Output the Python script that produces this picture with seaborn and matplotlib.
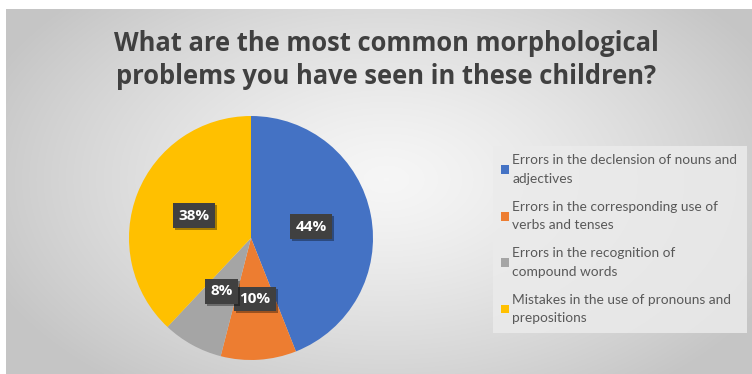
import numpy as np
import matplotlib
matplotlib.use("Agg")
import matplotlib.pyplot as plt
import matplotlib.patheffects as pe
from matplotlib.patches import Rectangle
import seaborn as sns

# ---- data ----
categories = [
    "Errors in the declension of nouns and\nadjectives",
    "Errors in the corresponding use of\nverbs and tenses",
    "Errors in the recognition of\ncompound words",
    "Mistakes in the use of pronouns and\nprepositions",
]
values = [44, 10, 8, 38]
colors = ["#4472C4", "#ED7D31", "#A5A5A5", "#FFC000"]
title = "What are the most common morphological\nproblems you have seen in these children?"

sns.set_theme(style="white")
plt.rcParams["font.family"] = ["Open Sans", "DejaVu Sans"]
palette = sns.color_palette(colors)

W, H = 752, 374
fig = plt.figure(figsize=(W / 100, H / 100), dpi=100)
fig.patch.set_facecolor("white")

# background radial gradient
bg = fig.add_axes([6 / W, 0, 1 - 6 / W, 1 - 9 / H])
bg.set_axis_off()
yy, xx = np.mgrid[0:365, 0:746]
cx, cy = 380, 170
d = np.sqrt(((xx - cx) / 430.0) ** 2 + ((yy - cy) / 260.0) ** 2)
d = np.clip(d, 0, 1)
light, dark = 0.965, 0.775
img = light - (light - dark) * d ** 1.3
bg.imshow(np.dstack([img, img, img]), aspect="auto", extent=[0, 1, 0, 1])
bg.set_xlim(0, 1)
bg.set_ylim(0, 1)

# title
fig.text(386 / W, 1 - 60 / H, title, ha="center", va="center",
         fontsize=18.4, fontweight="bold", color="#404040",
         linespacing=1.32, family=["Open Sans", "DejaVu Sans"])

# pie
cxp, cyp, R = 251, 238, 122
box = 125
ax = fig.add_axes([(cxp - box) / W, (H - cyp - box) / H, 2 * box / W, 2 * box / H])
ax.set_axis_off()
wedges, texts, autotexts = ax.pie(
    values, colors=palette, startangle=90, counterclock=False,
    radius=R / box, autopct=lambda p: f"{p:.0f}%", pctdistance=0.5,
    wedgeprops=dict(linewidth=0),
    textprops=dict(color="white", fontsize=11, fontweight="bold"),
)
for t in autotexts:
    t.set_bbox(dict(boxstyle="square,pad=0.35", fc="#404040", ec="none"))
    t.get_bbox_patch().set_path_effects(
        [pe.SimplePatchShadow(offset=(1.5, -1.5), shadow_rgbFace="#000000", alpha=0.35), pe.Normal()])
ax.set_xlim(-1, 1)
ax.set_ylim(-1, 1)
ax.set_aspect("auto")

# legend box
fig.patches.append(Rectangle((493 / W, 1 - 333 / H), (747 - 493) / W, (333 - 146) / H,
                             transform=fig.transFigure, fc="#ebebeb", ec="none",
                             alpha=0.85, zorder=1))
handles = [Rectangle((0, 0), 1, 1, fc=c, ec="none") for c in colors]
leg = fig.legend(handles, categories, loc="upper left",
                 bbox_to_anchor=(495 / W, 1 - 149 / H), frameon=False,
                 prop=dict(family=["Lato", "DejaVu Sans"], size=9.9),
                 handlelength=0.6, handleheight=0.6, handletextpad=0.25,
                 labelspacing=1.16, borderaxespad=0)
for t in leg.get_texts():
    t.set_color("#595959")
    t.set_linespacing(1.64)

fig.savefig("out.png", dpi=100, facecolor=fig.get_facecolor())
